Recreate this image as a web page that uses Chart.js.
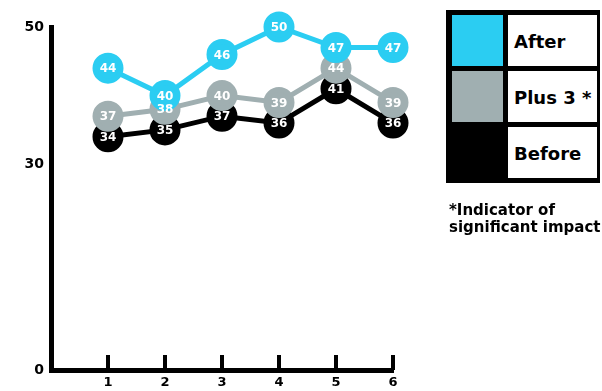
<!DOCTYPE html>
<html>
<head>
<meta charset="utf-8">
<script src="https://cdn.jsdelivr.net/npm/chart.js@4"></script>
<style>
  html, body { margin: 0; padding: 0; background: #fff; }
  #wrap { position: relative; width: 602px; height: 391px; overflow: hidden; font-family: "DejaVu Sans", sans-serif; }
  #c { position: absolute; left: 0; top: 0; }
  #legend { position: absolute; left: 446px; top: 10px; width: 154px; height: 173px; background: #000; }
  .sw { position: absolute; left: 6px; width: 51px; height: 51px; }
  .lb { position: absolute; left: 62px; width: 89px; height: 51px; background: #fff; font-weight: bold; font-size: 18px; line-height: 53px; padding-left: 6px; box-sizing: border-box; color: #000; white-space: nowrap; overflow: hidden; }
  #note { position: absolute; left: 449px; top: 202px; font-weight: bold; font-size: 15px; line-height: 17px; color: #000; white-space: nowrap; }
</style>
</head>
<body>
<div id="wrap">
  <canvas id="c" width="602" height="391"></canvas>
  <div id="legend"></div>
  <div id="note"></div>
</div>
<script>
const categories = [1, 2, 3, 4, 5, 6];
const afterValues = [44, 40, 46, 50, 47, 47];
const plus3Values = [37, 38, 40, 39, 44, 39];
const beforeValues = [34, 35, 37, 36, 41, 36];
const yTicks = [0, 30, 50];
const seriesNames = ["After", "Plus 3*", "Before"];
const seriesColors = ["#2bcdf2", "#a0afb1", "#000000"];
const footnote = ["*Indicator of", "significant impact"];

// Legend (HTML)
const legend = document.getElementById('legend');
seriesNames.forEach((name, i) => {
  const top = 5 + i * 56;
  const sw = document.createElement('div');
  sw.className = 'sw';
  sw.style.top = top + 'px';
  sw.style.background = seriesColors[i];
  legend.appendChild(sw);
  const lb = document.createElement('div');
  lb.className = 'lb';
  lb.style.top = top + 'px';
  lb.textContent = name.replace('*', ' *');
  legend.appendChild(lb);
});
document.getElementById('note').innerHTML = footnote.join('<br>');

const toPts = vals => vals.map((v, i) => ({ x: categories[i], y: v }));

const FONT = '"DejaVu Sans", sans-serif';

const valueLabels = {
  id: 'valueLabels',
  afterDatasetsDraw(chart) {
    const ctx = chart.ctx;
    ctx.save();
    ctx.font = 'bold 12px ' + FONT;
    ctx.fillStyle = '#ffffff';
    ctx.textAlign = 'center';
    ctx.textBaseline = 'middle';
    chart.data.datasets.forEach((ds, di) => {
      const meta = chart.getDatasetMeta(di);
      meta.data.forEach((pt, i) => {
        ctx.fillText(String(ds.data[i].y), pt.x, pt.y + 1);
      });
    });
    ctx.restore();
  }
};

const upTicks = {
  id: 'upTicks',
  afterDraw(chart) {
    const xs = chart.scales.x;
    const ctx = chart.ctx;
    const base = chart.chartArea.bottom;
    ctx.save();
    ctx.strokeStyle = '#000';
    ctx.lineWidth = 4;
    categories.forEach(c => {
      const px = xs.getPixelForValue(c);
      ctx.beginPath();
      ctx.moveTo(px, base);
      ctx.lineTo(px, base - 15);
      ctx.stroke();
    });
    ctx.restore();
  }
};

const mk = (label, vals, color, order) => ({
  label,
  data: toPts(vals),
  borderColor: color,
  backgroundColor: color,
  pointBackgroundColor: color,
  pointBorderColor: color,
  borderWidth: 5,
  pointRadius: 13,
  pointHoverRadius: 13,
  tension: 0,
  clip: false,
  order
});

new Chart(document.getElementById('c'), {
  type: 'line',
  data: {
    datasets: [
      mk(seriesNames[2], beforeValues, seriesColors[2], 3),
      mk(seriesNames[1], plus3Values, seriesColors[1], 2),
      mk(seriesNames[0], afterValues, seriesColors[0], 1)
    ]
  },
  options: {
    responsive: false,
    animation: false,
    events: [],
    layout: { padding: { top: 27, right: 209, left: 0, bottom: 0 } },
    plugins: { legend: { display: false }, tooltip: { enabled: false } },
    scales: {
      x: {
        type: 'linear',
        min: 0,
        max: 6,
        grid: { display: false, drawTicks: false },
        border: { display: true, color: '#000', width: 5 },
        ticks: {
          stepSize: 1,
          padding: 5,
          color: '#000',
          font: { family: FONT, size: 13, weight: 'bold' },
          callback: v => (v === 0 ? '' : String(v))
        },
        afterFit(s) { s.height = 21; }
      },
      y: {
        min: 0,
        max: 50,
        grid: { display: false, drawTicks: false },
        border: { display: true, color: '#000', width: 5 },
        afterBuildTicks(s) { s.ticks = yTicks.map(v => ({ value: v })); },
        ticks: {
          padding: 7,
          color: '#000',
          font: { family: FONT, size: 14, weight: 'bold' }
        },
        afterFit(s) { s.width = 51; }
      }
    }
  },
  plugins: [valueLabels, upTicks]
});
</script>
</body>
</html>
